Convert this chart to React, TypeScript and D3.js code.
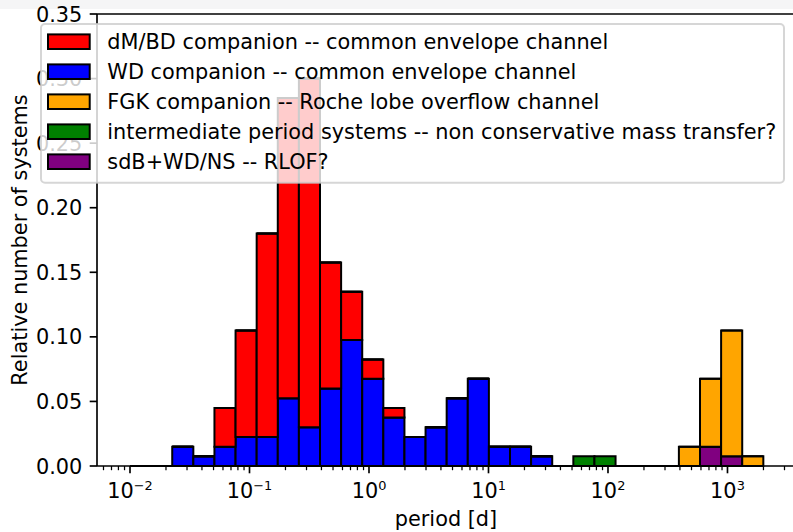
import React from 'react';
import * as d3 from 'd3';

// Histogram bins: 30 logarithmic bins from 10^-2 to 10^3.3 (period in days)
const LOG_MIN = -2;
const LOG_MAX = 3.3;
const N_BINS = 30;

// Relative number of systems per bin (own contribution of each channel)
const wdCE = [0, 0, 0.015, 0.0075, 0.015, 0.0225, 0.0225, 0.0525, 0.03, 0.06, 0.0975, 0.0675, 0.0375, 0.0225, 0.03, 0.0525, 0.0675, 0.015, 0.015, 0.0075, 0, 0, 0, 0, 0, 0, 0, 0, 0, 0];
const sdbRLOF = [0, 0, 0, 0, 0, 0, 0, 0, 0, 0, 0, 0, 0, 0, 0, 0, 0, 0, 0, 0, 0, 0, 0, 0, 0, 0, 0, 0.015, 0.0075, 0];
const dmCE = [0, 0, 0, 0, 0.03, 0.0825, 0.1575, 0.2325, 0.27, 0.0975, 0.0375, 0.015, 0.0075, 0, 0, 0, 0, 0, 0, 0, 0, 0, 0, 0, 0, 0, 0, 0, 0, 0];
const fgkRLOF = [0, 0, 0, 0, 0, 0, 0, 0, 0, 0, 0, 0, 0, 0, 0, 0, 0, 0, 0, 0, 0, 0, 0, 0, 0, 0, 0.015, 0.0525, 0.0975, 0.0075];
const intermediate = [0, 0, 0, 0, 0, 0, 0, 0, 0, 0, 0, 0, 0, 0, 0, 0, 0, 0, 0, 0, 0, 0.0075, 0.0075, 0, 0, 0, 0, 0, 0, 0];

const legendLabels = [
  'dM/BD companion -- common envelope channel',
  'WD companion -- common envelope channel',
  'FGK companion -- Roche lobe overflow channel',
  'intermediate period systems -- non conservative mass transfer?',
  'sdB+WD/NS -- RLOF?',
];
const legendColors = ['#ff0000', '#0000ff', '#ffa500', '#008000', '#800080'];

const yTicks = [0, 0.05, 0.1, 0.15, 0.2, 0.25, 0.3, 0.35];
const xDecades = [-2, -1, 0, 1, 2, 3];

// stacking order (bottom to top)
const stackKeys = ['wd', 'sdb', 'dm', 'fgk', 'inter'];
const stackColors: Record<string, string> = {
  wd: '#0000ff', sdb: '#800080', dm: '#ff0000', fgk: '#ffa500', inter: '#008000',
};

const W = 793;
const H = 532;
const FS = 20.83;
const FONT = 'DejaVu Sans, sans-serif';

export default function App() {
  const left = 97, right = 795, top = 14, bottom = 466;
  const x = d3.scaleLog().domain([Math.pow(10, -2.2762), Math.pow(10, 3.565)]).range([left, right]);
  const y = d3.scaleLinear().domain([0, 0.35]).range([bottom, top]);

  const edges = d3.range(N_BINS + 1).map(i => Math.pow(10, LOG_MIN + (LOG_MAX - LOG_MIN) * i / N_BINS));
  const rows = d3.range(N_BINS).map(i => ({
    i, wd: wdCE[i], sdb: sdbRLOF[i], dm: dmCE[i], fgk: fgkRLOF[i], inter: intermediate[i],
  }));
  const stacked = d3.stack<any>().keys(stackKeys)(rows);

  const minorTicks: number[] = [];
  for (let d = -3; d <= 3; d++) {
    for (let m = 2; m <= 9; m++) {
      const v = m * Math.pow(10, d);
      if (v >= x.domain()[0] && v <= x.domain()[1]) minorTicks.push(v);
    }
  }

  const lw = 1.67;
  const legX = 41, legY = 24, legW = 743, legH = 158.7;

  return (
    <svg width={W} height={H} style={{ position: 'absolute', left: 0, top: 0, background: '#fff' }} fontFamily={FONT}>
      <rect x={0} y={0} width={W} height={H} fill="#fff" />
      <rect x={0} y={0} width={W} height={9} fill="#f5f5f6" />
      {/* bars */}
      {stacked.map(layer => (
        <g key={layer.key}>
          {layer.map((d, i) => {
            const x0 = x(edges[i]), x1 = x(edges[i + 1]);
            const y0 = y(d[0]), y1 = y(d[1]);
            const p = `M${x0},${y0}H${x1}V${y1}H${x0}Z`;
            return <path key={i} d={p} fill={stackColors[layer.key as string]} stroke="#000" strokeWidth={2} strokeLinejoin="miter" />;
          })}
        </g>
      ))}
      {/* spines */}
      <line x1={left} x2={left} y1={top} y2={bottom} stroke="#000" strokeWidth={lw} />
      <line x1={left} x2={right} y1={top} y2={top} stroke="#000" strokeWidth={lw} />
      <line x1={left} x2={right} y1={bottom} y2={bottom} stroke="#000" strokeWidth={lw} />
      <line x1={right} x2={right} y1={top} y2={bottom} stroke="#000" strokeWidth={lw} />
      {/* y ticks */}
      {yTicks.map(t => (
        <g key={t}>
          <line x1={left - 7.3} x2={left} y1={y(t)} y2={y(t)} stroke="#000" strokeWidth={lw} />
          <text x={left - 14.6} y={y(t) + 7.6} textAnchor="end" fontSize={FS} fill="#000">{t.toFixed(2)}</text>
        </g>
      ))}
      {/* x minor ticks */}
      {minorTicks.map((t, i) => (
        <line key={i} x1={x(t)} x2={x(t)} y1={bottom} y2={bottom + 4.2} stroke="#000" strokeWidth={1.25} />
      ))}
      {/* x major ticks */}
      {xDecades.map(d => {
        const px = x(Math.pow(10, d));
        const sup = d < 0 ? '\u2212' + Math.abs(d) : String(d);
        return (
          <g key={d}>
            <line x1={px} x2={px} y1={bottom} y2={bottom + 7.3} stroke="#000" strokeWidth={lw} />
            <text x={px} y={bottom + 31.5} textAnchor="middle" fontSize={FS} fill="#000">
              10<tspan fontSize={FS * 0.62} dy={-7.5}>{sup}</tspan>
            </text>
          </g>
        );
      })}
      {/* axis labels */}
      <text x={(left + right) / 2} y={526} textAnchor="middle" fontSize={FS} fill="#000">period [d]</text>
      <text transform={`translate(26.5,${(top + bottom) / 2}) rotate(-90)`} textAnchor="middle" fontSize={FS} fill="#000">Relative number of systems</text>
      {/* legend */}
      <rect x={legX} y={legY} width={legW} height={legH} rx={4} fill="#fff" fillOpacity={0.8} stroke="#cccccc" strokeOpacity={0.8} strokeWidth={2} />
      {legendLabels.map((lab, i) => {
        const cy = 41.7 + 30 * i;
        return (
          <g key={i}>
            <rect x={48} y={cy - 7.3} width={41.7} height={14.6} fill={legendColors[i]} stroke="#000" strokeWidth={2} />
            <text x={107.3} y={cy + 7} fontSize={FS} fill="#000">{lab}</text>
          </g>
        );
      })}
    </svg>
  );
}
